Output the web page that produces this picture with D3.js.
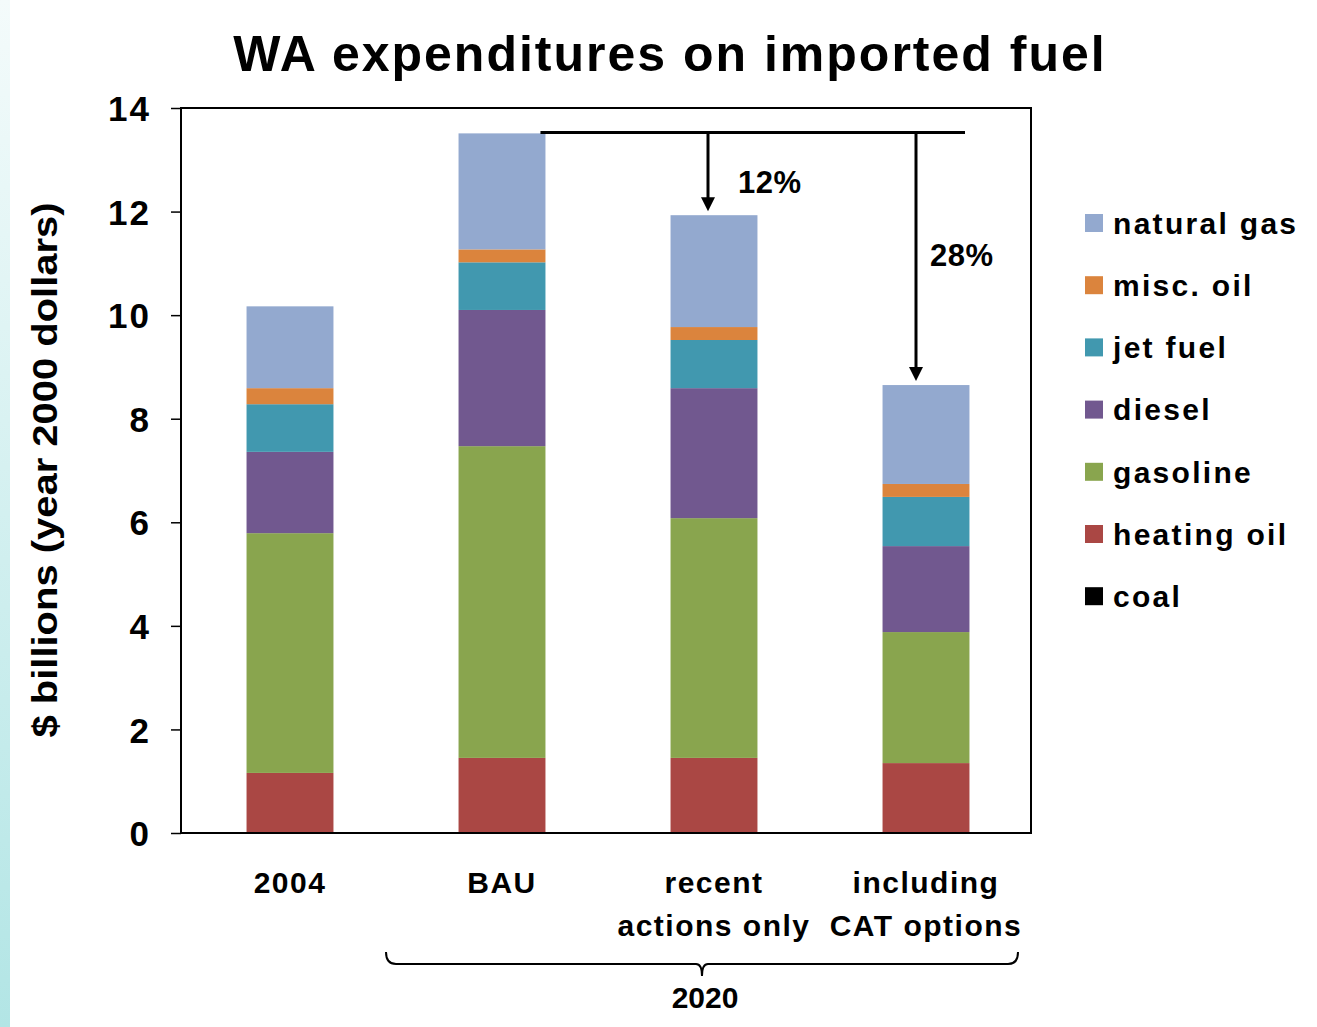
<!DOCTYPE html>
<html>
<head>
<meta charset="utf-8">
<script src="https://cdn.jsdelivr.net/npm/d3@7"></script>
<style>
    body { margin: 0; background: #fff; }
    #view { width: 1317px; height: 1027px; }
    text { font-family: "Liberation Sans", Arial, sans-serif; font-weight: bold; fill: #000; }
</style>
</head>
<body>
<div id="view"></div>
<script>
var categories = ["2004", "BAU", "recent actions only", "including CAT options"];
var catLines = [["2004"], ["BAU"], ["recent", "actions only"], ["including", "CAT options"]];
var fuels = ["coal", "heating oil", "gasoline", "diesel", "jet fuel", "misc. oil", "natural gas"];
var colors = ["#000000", "#aa4744", "#89a54e", "#71588f", "#4198af", "#db843d", "#93a9cf"];

var coal       = [0.00, 0.00, 0.00, 0.00];
var heatingOil = [1.16, 1.45, 1.45, 1.35];
var gasoline   = [4.63, 6.02, 4.63, 2.53];
var diesel     = [1.57, 2.63, 2.51, 1.66];
var jetFuel    = [0.92, 0.92, 0.93, 0.95];
var miscOil    = [0.31, 0.25, 0.25, 0.25];
var naturalGas = [1.58, 2.24, 2.16, 1.91];

var yTicks = [0, 2, 4, 6, 8, 10, 12, 14];
var drops = [{to: 2, label: "12%"}, {to: 3, label: "28%"}];

var rows = categories.map((c, i) => ({
    cat: c,
    "coal": coal[i],
    "heating oil": heatingOil[i],
    "gasoline": gasoline[i],
    "diesel": diesel[i],
    "jet fuel": jetFuel[i],
    "misc. oil": miscOil[i],
    "natural gas": naturalGas[i],
}));

var view = {
    width: 1317,
    height: 1027,
    left: 181, right: 1031, top: 108, bottom: 833,
};

var svg = d3.select("#view").append("svg")
    .attr("width", view.width)
    .attr("height", view.height)
;

// pale strip on the left edge
var grad = svg.append("defs").append("linearGradient")
    .attr("id", "strip").attr("x1", 0).attr("y1", 0).attr("x2", 0).attr("y2", 1);
grad.append("stop").attr("offset", "0%").attr("stop-color", "#f4fbfb");
grad.append("stop").attr("offset", "100%").attr("stop-color", "#b2e5e5");
svg.append("rect").attr("x", 0).attr("y", 0).attr("width", 10).attr("height", view.height)
    .attr("fill", "url(#strip)");

var x = d3.scaleBand().domain(categories).range([view.left + 3, view.right + 1]).paddingInner(0.59).paddingOuter(0.295);
var y = d3.scaleLinear().domain([0, 14]).range([view.bottom, view.top]);

var stack = d3.stack().keys(fuels)(rows);

svg.append("g").selectAll("g")
    .data(stack)
    .enter().append("g")
    .attr("fill", (d, i) => colors[i])
    .selectAll("rect")
    .data(d => d)
    .enter().append("rect")
    .attr("x", d => x(d.data.cat))
    .attr("width", x.bandwidth())
    .attr("y", d => y(d[1]))
    .attr("height", d => y(d[0]) - y(d[1]))
;

// frame
svg.append("rect")
    .attr("x", view.left).attr("y", view.top)
    .attr("width", view.right - view.left).attr("height", view.bottom - view.top)
    .attr("fill", "none").attr("stroke", "#000").attr("stroke-width", 2);

var yAxis = svg.append("g")
    .attr("transform", `translate(${view.left}, 0)`)
    .call(d3.axisLeft(y).tickValues(yTicks).tickSize(10).tickPadding(20).tickFormat(d3.format("d")));
yAxis.select(".domain").remove();
yAxis.selectAll("line").attr("stroke", "#000").attr("stroke-width", 1.5);
yAxis.selectAll("text").style("font-size", "35px").style("letter-spacing", "2px").attr("dy", "0.36em");

// category labels
svg.append("g").selectAll("text")
    .data(catLines)
    .enter().append("text")
    .attr("text-anchor", "middle")
    .style("font-size", "30px")
    .style("letter-spacing", "1.5px")
    .each(function(lines, i) {
        var cx = x(categories[i]) + x.bandwidth() / 2;
        d3.select(this).selectAll("tspan").data(lines).enter().append("tspan")
            .attr("x", cx)
            .attr("y", (l, j) => 893 + j * 43)
            .text(l => l);
    })
;

// title
svg.append("text")
    .attr("x", 670).attr("y", 71)
    .attr("text-anchor", "middle")
    .style("font-size", "50px")
    .style("letter-spacing", "2px")
    .text("WA expenditures on imported fuel");

// y label
svg.append("text")
    .attr("transform", "translate(57, 470) rotate(-90)")
    .attr("text-anchor", "middle")
    .style("font-family", "'Liberation Sans Narrow', 'Liberation Sans', Arial, sans-serif")
    .style("font-size", "35px")
    .attr("textLength", 535)
    .attr("lengthAdjust", "spacingAndGlyphs")
    .text("$ billions (year 2000 dollars)");

// reduction arrows
var bauTop = d3.sum(fuels, f => rows[1][f]);
var lineY = y(bauTop) - 1;
svg.append("line")
    .attr("x1", x("BAU") + x.bandwidth() - 5).attr("x2", 965)
    .attr("y1", lineY).attr("y2", lineY)
    .attr("stroke", "#000").attr("stroke-width", 3);

drops.forEach(function(d, k) {
    var total = d3.sum(fuels, f => rows[d.to][f]);
    var ax = k === 0 ? 708 : 916;
    var tip = y(total) - 4;
    svg.append("line")
        .attr("x1", ax).attr("x2", ax)
        .attr("y1", lineY).attr("y2", tip - 12)
        .attr("stroke", "#000").attr("stroke-width", 3);
    svg.append("path")
        .attr("d", `M${ax - 7},${tip - 14} L${ax + 7},${tip - 14} L${ax},${tip} Z`)
        .attr("fill", "#000");
    svg.append("text")
        .attr("x", k === 0 ? 738 : 930)
        .attr("y", k === 0 ? 193 : 266)
        .style("font-size", "31px")
        .style("letter-spacing", "0.5px")
        .text(d.label);
});

// brace under 2020 bars
var bx0 = 386, bx1 = 1018, by = 964, bmid = 702;
svg.append("path")
    .attr("d", `M${bx0},${by - 12} Q${bx0},${by} ${bx0 + 10},${by} L${bmid - 6},${by} Q${bmid},${by} ${bmid},${by + 12} Q${bmid},${by} ${bmid + 6},${by} L${bx1 - 10},${by} Q${bx1},${by} ${bx1},${by - 12}`)
    .attr("fill", "none").attr("stroke", "#000").attr("stroke-width", 2);
svg.append("text")
    .attr("x", 705).attr("y", 1008)
    .attr("text-anchor", "middle")
    .style("font-size", "30px")
    .text("2020");

// legend, top to bottom in reverse stack order
var legend = svg.append("g").selectAll("g")
    .data(fuels.slice().reverse())
    .enter().append("g")
    .attr("transform", (d, i) => `translate(1085, ${223 + i * 62.2})`);
legend.append("rect")
    .attr("x", 0).attr("y", -9).attr("width", 18).attr("height", 18)
    .attr("fill", d => colors[fuels.indexOf(d)]);
legend.append("text")
    .attr("x", 28).attr("dy", "0.36em")
    .style("font-size", "30px")
    .style("letter-spacing", "2.3px")
    .text(d => d);
</script>
</body>
</html>
